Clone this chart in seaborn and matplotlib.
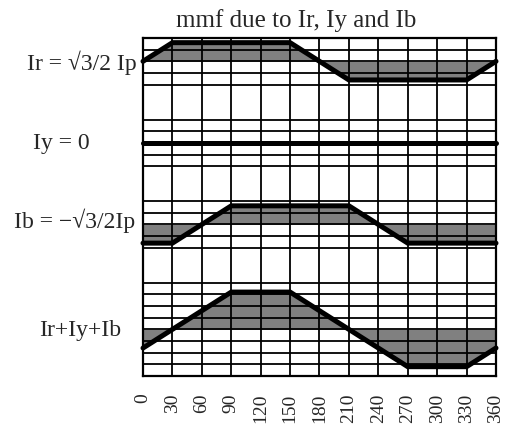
import matplotlib
matplotlib.use('Agg')
import numpy as np
import matplotlib.pyplot as plt
import matplotlib.transforms as mtransforms
import seaborn as sns

# Angle round the air gap (degrees)
angles = [0, 30, 60, 90, 120, 150, 180, 210, 240, 270, 300, 330, 360]

# mmf of each phase winding, in grid units (one unit = one small grid row)
ir = [0, 1.6, 1.6, 1.6, 1.6, 1.6, 0, -1.6, -1.6, -1.6, -1.6, -1.6, 0]
iy = [0, 0, 0, 0, 0, 0, 0, 0, 0, 0, 0, 0, 0]
ib = [-1.6, -1.6, 0, 1.6, 1.6, 1.6, 1.6, 1.6, 0, -1.6, -1.6, -1.6, -1.6]
isum = [-1.6, 0, 1.6, 3.2, 3.2, 3.2, 1.6, 0, -1.6, -3.2, -3.2, -3.2, -1.6]

labels = ['Ir = √3/2 Ip', 'Iy = 0', 'Ib = −√3/2Ip', 'Ir+Iy+Ib']
title = 'mmf due to Ir, Iy and Ib'

# zero level of each strip and the horizontal grid rows
baselines = [27, 20, 13, 4]
grid_rows = [0, 1, 2, 3, 4, 5, 6, 7, 8, 11, 12, 13, 14, 15,
             18, 19, 20, 21, 22, 25, 26, 27, 28, 29]

sns.set_style('white')
plt.rcParams['font.family'] = ['Liberation Serif', 'DejaVu Serif']

fig = plt.figure(figsize=(5.06, 4.27), dpi=100)
ax = fig.add_axes([143 / 506, 1 - 377 / 427, 353 / 506, 338 / 427])

series = [ir, iy, ib, isum]
for vals, base in zip(series, baselines):
    y = np.array(vals) + base
    if any(v != 0 for v in vals):
        ax.fill_between(angles, base, y, color='#808080', lw=0, zorder=1)
    sns.lineplot(x=angles, y=y, color='black', lw=3.6, ax=ax,
                 zorder=4, clip_on=False, solid_joinstyle='miter')

ax.set_xlim(0, 360)
ax.set_ylim(0, 29)
ax.set_xticks(angles)
ax.set_xticklabels([str(a) for a in angles], rotation=90, fontsize=14)
ax.set_yticks(grid_rows)
ax.set_yticklabels([])
ax.tick_params(length=0, pad=12)
ax.grid(True, color='black', lw=1.3)
ax.set_axisbelow(False)
for sp in ax.spines.values():
    sp.set_color('black')
    sp.set_linewidth(1.6)

# phase labels to the left of the strips
label_x = [82, 61, 75, 80]
label_y = [27, 20, 13.4, 4]
trans = mtransforms.blended_transform_factory(fig.transFigure, ax.transData)
for txt, lx, ly in zip(labels, label_x, label_y):
    ax.text(lx / 506, ly, txt, transform=trans, ha='center', va='center',
            fontsize=17)

fig.text(296 / 506, 1 - 21 / 427, title, ha='center', va='center', fontsize=18)

fig.savefig('out.png', dpi=100)
